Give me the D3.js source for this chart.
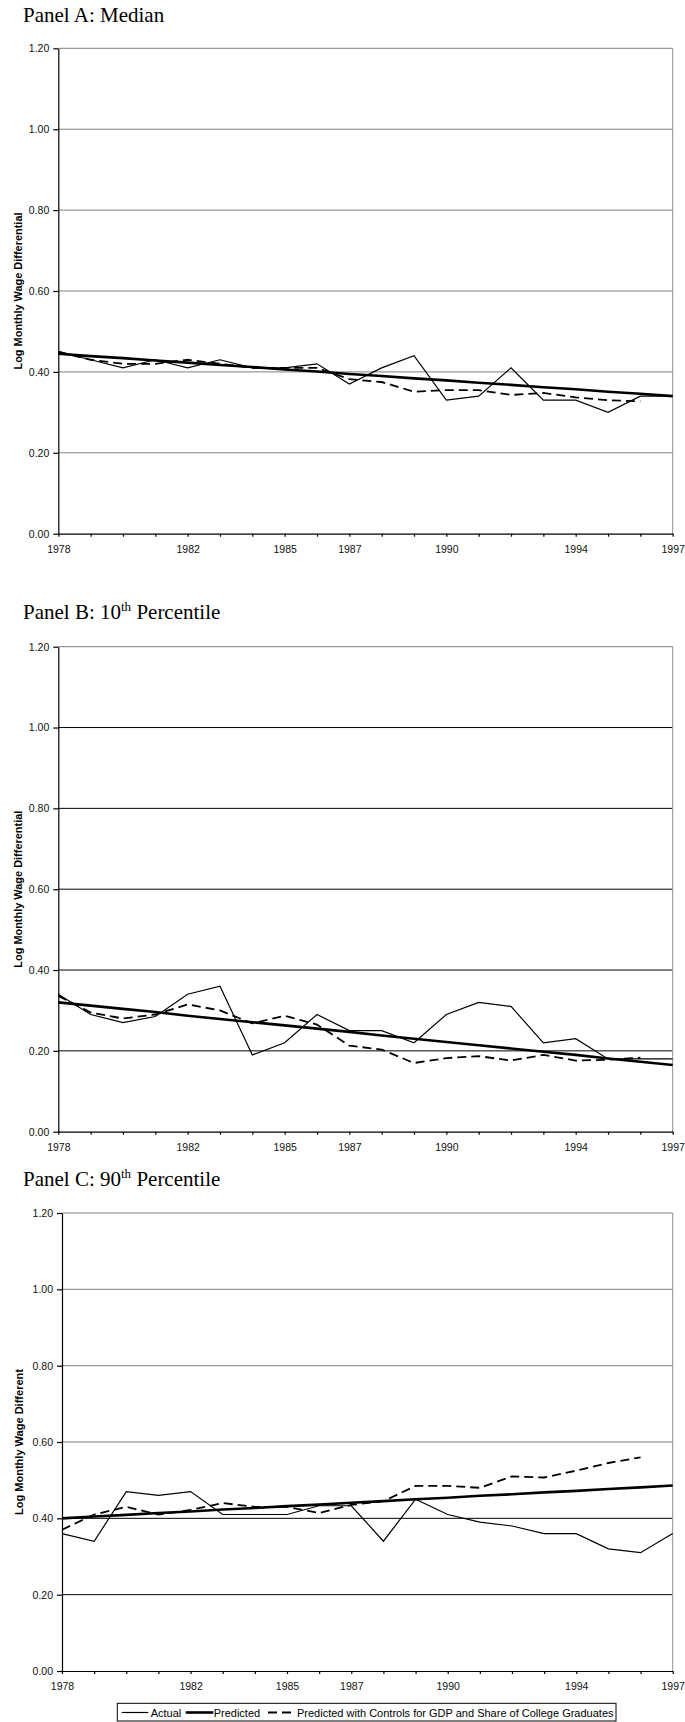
<!DOCTYPE html>
<html><head><meta charset="utf-8">
<script src="https://cdn.jsdelivr.net/npm/d3@7"></script>
<style>body{margin:0;background:#fff}svg{display:block}</style>
</head><body>
<svg id="c" width="685" height="1722"></svg>
<script>
// ---------- data ----------
const years = [1978,1979,1980,1981,1982,1983,1984,1985,1986,1987,1988,1989,1990,1991,1992,1993,1994,1995,1996,1997];
const labeledYears = [1978,1982,1985,1987,1990,1994,1997];
const yTicks = [0,0.2,0.4,0.6,0.8,1.0,1.2];

const medianActual    = [0.45,0.43,0.41,0.43,0.41,0.43,0.41,0.41,0.42,0.37,0.41,0.44,0.33,0.34,0.41,0.33,0.33,0.30,0.34,0.34];
const medianPredicted = [0.445,0.439,0.434,0.428,0.423,0.417,0.412,0.406,0.401,0.395,0.390,0.384,0.379,0.373,0.368,0.362,0.357,0.351,0.346,0.340];
const medianControls  = [0.45,0.43,0.42,0.42,0.43,0.42,0.41,0.41,0.41,0.382,0.375,0.351,0.355,0.355,0.343,0.348,0.337,0.330,0.327];

const p10Actual    = [0.34,0.29,0.27,0.285,0.34,0.36,0.19,0.22,0.29,0.25,0.25,0.22,0.29,0.32,0.31,0.22,0.23,0.18,0.18,0.18];
const p10Predicted = [0.320,0.312,0.304,0.296,0.287,0.279,0.271,0.263,0.255,0.247,0.238,0.230,0.222,0.214,0.206,0.198,0.190,0.181,0.173,0.165];
const p10Controls  = [0.336,0.295,0.28,0.29,0.315,0.30,0.268,0.287,0.265,0.213,0.203,0.170,0.182,0.187,0.176,0.190,0.176,0.178,0.183];

const p90Actual    = [0.36,0.34,0.47,0.46,0.47,0.41,0.41,0.41,0.433,0.433,0.34,0.45,0.41,0.39,0.38,0.36,0.36,0.32,0.31,0.36];
const p90Predicted = [0.400,0.405,0.409,0.414,0.418,0.423,0.427,0.432,0.436,0.441,0.445,0.450,0.454,0.459,0.463,0.468,0.472,0.477,0.481,0.486];
const p90Controls  = [0.37,0.41,0.43,0.41,0.422,0.44,0.43,0.43,0.414,0.435,0.445,0.485,0.485,0.48,0.51,0.507,0.525,0.545,0.56];

const panelTitles = [["Panel A: Median", "", ""], ["Panel B: 10", "th", " Percentile"], ["Panel C: 90", "th", " Percentile"]];
const yLabels = ["Log Monthly Wage Differential", "Log Monthly Wage Differential", "Log Monthly Wage Different"];
const legendLabels = ["Actual", "Predicted", "Predicted with Controls for GDP and Share of College Graduates"];

// ---------- layout ----------
const panels = [
  {actual: medianActual, pred: medianPredicted, ctrl: medianControls, top: 48.3, bottom: 533.7, left: 58.3, right: 672.7, titleY: 22.3, labLen: 157, labX: 18,
   grid: ["#808080","#808080","#808080","#808080","#808080","#808080"]},
  {actual: p10Actual, pred: p10Predicted, ctrl: p10Controls, top: 646.7, bottom: 1131.7, left: 58.3, right: 672.7, titleY: 619, labLen: 157, labX: 18,
   grid: ["#000","#000","#000","#000","#000","#808080"]},
  {actual: p90Actual, pred: p90Predicted, ctrl: p90Controls, top: 1213, bottom: 1671, left: 62, right: 672.7, titleY: 1186, labLen: 146, labX: 19,
   grid: ["#000","#000","#808080","#808080","#808080","#808080"]}
];

const svg = d3.select("#c");
const sansFont = "'Liberation Sans', Arial, sans-serif";
const serifFont = "'Liberation Serif', 'Times New Roman', serif";

panels.forEach((p, i) => {
  const x = d3.scaleLinear().domain([1978, 1997]).range([p.left, p.right]);
  const y = d3.scaleLinear().domain([0, 1.2]).range([p.bottom, p.top]);
  const g = svg.append("g");

  // title
  const t = g.append("text").attr("x", 23).attr("y", p.titleY)
    .attr("font-family", serifFont).attr("font-size", 21).attr("fill", "#000");
  t.append("tspan").text(panelTitles[i][0]);
  if (panelTitles[i][1]) {
    t.append("tspan").attr("font-size", 13).attr("dy", -8).text(panelTitles[i][1]);
    t.append("tspan").attr("dy", 8).text(panelTitles[i][2]);
  }

  // gridlines
  g.append("g").selectAll("line").data(yTicks.filter(d => d > 0)).join("line")
    .attr("x1", p.left).attr("x2", p.right)
    .attr("y1", d => y(d)).attr("y2", d => y(d))
    .attr("stroke", (d, k) => p.grid[k]).attr("stroke-width", 1);
  // right border
  g.append("line").attr("x1", p.right).attr("x2", p.right).attr("y1", y(1.2)).attr("y2", y(0))
    .attr("stroke", "#909090").attr("stroke-width", 1);

  // axes
  const ya = g.append("g").attr("transform", `translate(${p.left},0)`)
    .call(d3.axisLeft(y).tickValues(yTicks).tickFormat(d3.format(".2f")).tickSize(5).tickSizeOuter(0).tickPadding(4));
  const xa = g.append("g").attr("transform", `translate(0,${p.bottom})`)
    .call(d3.axisBottom(x).tickValues(years).tickSize(3).tickSizeOuter(0).tickPadding(9)
      .tickFormat(d => labeledYears.includes(d) ? String(d) : ""));
  [ya, xa].forEach(a => {
    a.selectAll("text").attr("font-family", sansFont).attr("font-size", 10.5).attr("fill", "#111");
    a.selectAll("path,line").attr("stroke", "#000").attr("stroke-width", 1.2);
  });

  // y label
  g.append("text").attr("transform", `translate(${p.labX},${(p.top + p.bottom) / 2}) rotate(-90)`)
    .attr("text-anchor", "middle").attr("dominant-baseline", "central")
    .attr("font-family", sansFont).attr("font-weight", "bold").attr("font-size", 10)
    .attr("textLength", p.labLen).attr("lengthAdjust", "spacingAndGlyphs")
    .text(yLabels[i]);

  const line = d3.line().x((d, k) => x(years[k])).y(d => y(d));
  g.append("path").datum(p.ctrl).attr("d", line).attr("fill", "none")
    .attr("stroke", "#000").attr("stroke-width", 1.8).attr("stroke-dasharray", "9,5");
  g.append("path").datum(p.pred).attr("d", line).attr("fill", "none")
    .attr("stroke", "#000").attr("stroke-width", 2.6);
  g.append("path").datum(p.actual).attr("d", line).attr("fill", "none")
    .attr("stroke", "#000").attr("stroke-width", 1.2);
});

// ---------- legend ----------
const lg = svg.append("g");
lg.append("rect").attr("x", 117.3).attr("y", 1703.3).attr("width", 498.7).attr("height", 17.7)
  .attr("fill", "#fff").attr("stroke", "#000").attr("stroke-width", 1);
const ly = 1712.5;
const legendItems = [
  {x1: 121.7, x2: 148.3, tx: 150.7, w: 1.2, dash: null},
  {x1: 185.7, x2: 213.3, tx: 213.7, w: 2.6, dash: null},
  {x1: 268, x2: 293, tx: 297, w: 1.8, dash: "9,5"}
];
legendItems.forEach((it, k) => {
  lg.append("line").attr("x1", it.x1).attr("x2", it.x2).attr("y1", ly).attr("y2", ly)
    .attr("stroke", "#000").attr("stroke-width", it.w).attr("stroke-dasharray", it.dash);
  lg.append("text").attr("x", it.tx).attr("y", ly).attr("dominant-baseline", "central")
    .attr("font-family", sansFont).attr("font-size", 11).attr("fill", "#000")
    .text(legendLabels[k]);
});
</script>
</body></html>
